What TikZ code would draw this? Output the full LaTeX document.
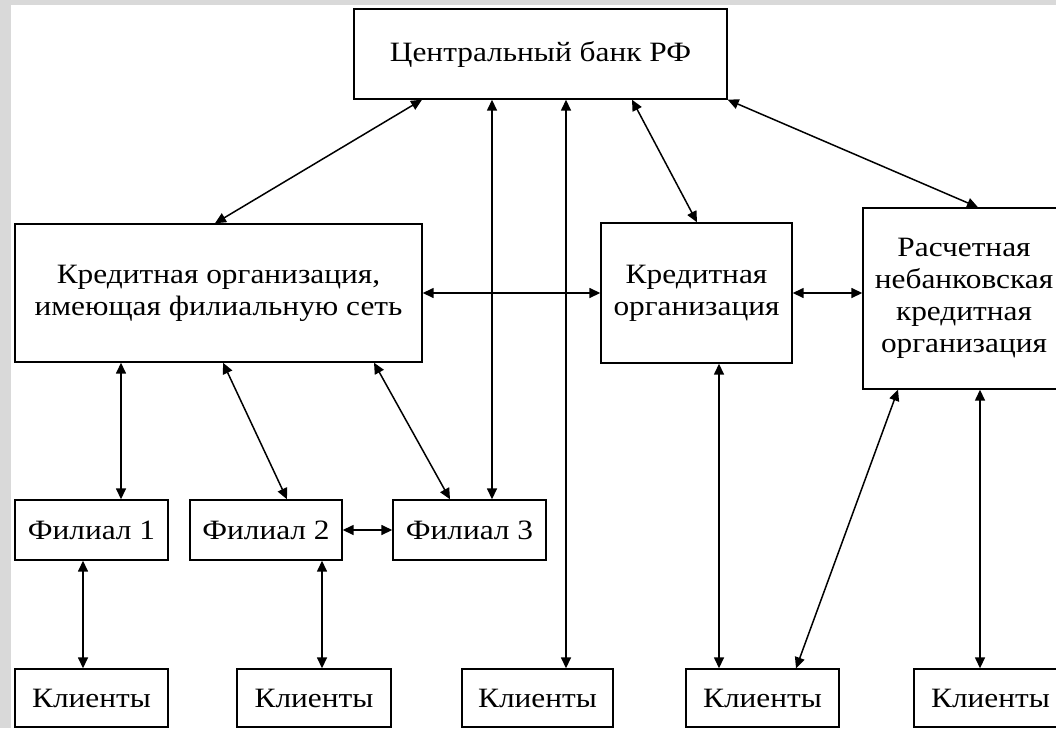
\documentclass[tikz,border=0pt]{standalone}
\usepackage{fontspec}
\setmainfont[FakeStretch=1.12]{Liberation Serif}
\usetikzlibrary{arrows.meta}
\definecolor{framegrey}{HTML}{D9D9D9}
\begin{document}
\begin{tikzpicture}[x=1pt,y=-1pt,
  box/.style={draw,line width=1.4pt,inner sep=0pt,align=center,font=\fontsize{28}{32}\selectfont},
  link/.style={line width=1.5pt,{Triangle[length=11pt,width=10pt]}-{Triangle[length=11pt,width=10pt]}}]
\useasboundingbox (0,0) rectangle (1056,728);
\clip (0,0) rectangle (1056,728);
\fill[framegrey] (0,0) rectangle (1056,728);
\fill[white] (10.5,5) rectangle (1056,728);
% nodes
\node[box,minimum width=373pt,minimum height=90pt] (cb) at (540.5,54) {Центральный банк РФ};
\node[box,minimum width=407pt,minimum height=138pt] (kob) at (218.5,293) {Кредитная организация,\\имеющая филиальную сеть};
\node[box,minimum width=191pt,minimum height=140pt] (ko) at (696.5,293) {Кредитная\\организация};
\node[box,minimum width=202pt,minimum height=181pt] (rnko) at (964,298.5) {Расчетная\\небанковская\\кредитная\\организация};
\node[box,minimum width=153pt,minimum height=60pt] (f1) at (91.5,530) {Филиал 1};
\node[box,minimum width=152pt,minimum height=60pt] (f2) at (266,530) {Филиал 2};
\node[box,minimum width=153pt,minimum height=60pt] (f3) at (469.5,530) {Филиал 3};
\node[box,minimum width=153pt,minimum height=58pt] (k1) at (91.5,698) {Клиенты};
\node[box,minimum width=154pt,minimum height=58pt] (k2) at (314,698) {Клиенты};
\node[box,minimum width=151pt,minimum height=58pt] (k3) at (537.5,698) {Клиенты};
\node[box,minimum width=153pt,minimum height=58pt] (k4) at (762.5,698) {Клиенты};
\node[box,minimum width=153pt,minimum height=58pt] (k5) at (990.5,698) {Клиенты};
% connectors
\draw[link] ([xshift=-118.5pt]cb.south) -- ([xshift=-3.5pt]kob.north);
\draw[link] ([xshift=-48.5pt]cb.south) -- ([xshift=22.5pt]f3.north);
\draw[link] ([xshift=25.5pt]cb.south) -- ([xshift=28.5pt]k3.north);
\draw[link] ([xshift=91.5pt]cb.south) -- ([xshift=0.5pt]ko.north);
\draw[link] (cb.south east) -- ([xshift=14pt]rnko.north);
\draw[link] (kob.east) -- (ko.west);
\draw[link] (ko.east) -- ([yshift=5.5pt]rnko.west);
\draw[link] ([xshift=-97.5pt]kob.south) -- ([xshift=29.5pt]f1.north);
\draw[link] ([xshift=4.5pt]kob.south) -- ([xshift=21pt]f2.north);
\draw[link] ([xshift=155.5pt]kob.south) -- ([xshift=-19.5pt]f3.north);
\draw[link] (f2.east) -- (f3.west);
\draw[link] ([xshift=-8.5pt]f1.south) -- ([xshift=-8.5pt]k1.north);
\draw[link] ([xshift=56pt]f2.south) -- ([xshift=8pt]k2.north);
\draw[link] ([xshift=22.5pt]ko.south) -- ([xshift=-43.5pt]k4.north);
\draw[link] ([xshift=-66pt]rnko.south) -- ([xshift=33.5pt]k4.north);
\draw[link] ([xshift=16pt]rnko.south) -- ([xshift=-10.5pt]k5.north);
\end{tikzpicture}
\end{document}
